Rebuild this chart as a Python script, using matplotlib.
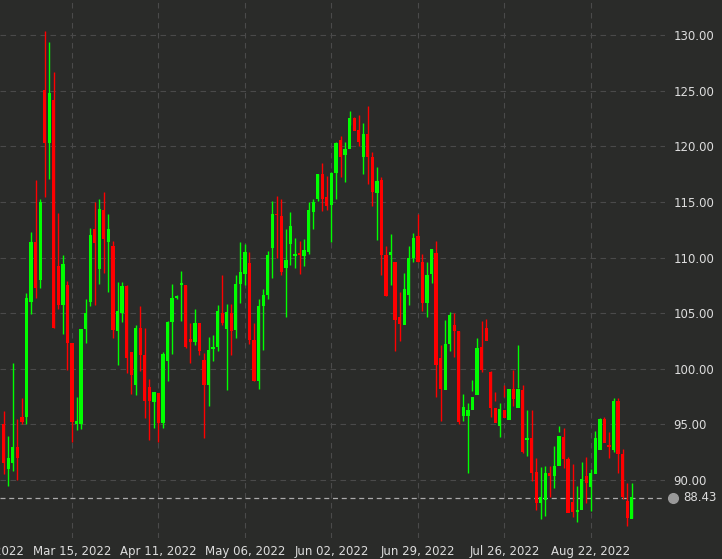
import matplotlib
matplotlib.use("Agg")
import matplotlib.pyplot as plt
import numpy as np
import pandas as pd

opens = [95.0,91.0,91.5,93.0,95.7,95.7,106.0,111.4,108.0,125.1,120.3,124.2,109.2,105.7,107.5,102.3,95.0,95.0,103.6,106.0,112.6,109.0,114.3,111.4,111.0,
         103.4,105.0,107.4,101.5,98.5,103.7,101.2,98.4,97.0,97.8,95.1,100.7,104.2,106.4,107.5,107.5,102.7,102.4,104.1,100.8,98.5,101.8,102.0,105.0,
         103.6,105.0,103.5,107.6,108.5,109.5,102.6,98.9,105.6,106.6,110.9,113.9,113.7,109.1,111.2,110.1,110.4,110.1,110.5,114.1,115.3,117.5,115.4,114.7,
         117.6,120.6,119.2,119.8,122.5,121.5,119.0,121.1,119.0,115.8,117.0,110.2,110.2,109.6,104.7,103.9,106.6,110.0,111.9,109.6,105.9,108.5,110.4,101.0,
         98.1,102.2,103.9,103.4,95.8,95.8,96.3,97.6,102.0,103.7,99.7,96.5,94.9,96.3,95.4,98.2,96.5,98.1,93.6,93.8,90.7,87.9,88.2,90.6,
         90.4,91.3,93.9,91.9,88.0,87.1,87.3,90.4,89.4,90.5,92.7,95.5,93.05,92.7,97.1,92.3,88.1,86.5]
closes = [91.5,92.0,93.0,92.0,95.2,106.4,111.4,107.3,115.0,120.3,124.8,103.7,105.7,109.4,102.3,95.2,95.3,103.6,105.0,112.0,111.3,114.4,111.7,112.6,103.5,
          105.2,107.4,101.0,99.4,103.7,101.2,97.1,97.1,97.9,95.1,101.3,104.2,106.4,106.5,107.7,102.0,102.4,104.1,101.6,98.5,101.7,102.0,105.2,104.1,
          105.1,103.4,107.6,108.7,110.5,102.6,98.9,105.6,106.6,110.2,113.9,113.8,108.7,109.8,112.8,110.3,110.25,110.7,114.3,115.0,117.5,115.3,114.6,117.6,
          120.3,119.0,119.8,122.5,121.4,120.4,121.1,119.0,115.9,116.9,110.2,106.5,110.5,104.4,104.0,107.2,110.0,111.8,109.6,105.9,108.4,110.8,100.3,98.2,
          102.2,104.8,103.4,95.2,96.6,96.3,97.5,101.9,99.9,102.5,96.5,95.1,96.4,95.6,98.2,97.3,98.2,92.5,93.8,90.6,87.9,88.5,90.6,90.4,
          91.3,94.0,91.9,87.0,87.1,87.3,90.1,89.7,90.6,93.8,95.5,93.3,93.0,97.1,92.3,88.5,86.6,88.5]
highs = [96.2,94.0,100.5,95.5,97.4,106.8,112.3,117.0,115.3,130.4,129.4,126.7,114.0,110.2,107.9,102.3,97.5,103.6,106.3,112.7,115.0,115.3,115.9,113.9,111.5,
         107.8,107.8,107.5,101.5,103.9,105.6,103.7,99.1,97.9,97.8,101.5,104.3,107.6,106.6,108.8,107.5,104.1,105.4,104.1,101.4,102.9,103.0,105.7,108.4,
         105.8,105.8,108.4,111.4,111.2,110.5,104.1,106.3,107.2,110.6,115.1,115.5,115.3,112.6,114.1,111.8,111.5,111.7,115.0,115.3,117.5,118.5,117.3,117.7,
         120.4,120.9,120.4,123.2,122.6,122.8,122.1,123.6,119.5,118.1,117.2,111.0,112.1,109.6,106.9,108.6,111.0,112.2,113.9,110.3,109.6,110.8,111.5,102.1,
         104.4,105.1,105.0,103.4,97.7,96.9,99.0,102.8,104.3,104.5,99.8,97.9,96.9,98.5,98.2,99.9,102.1,98.5,96.3,96.3,92.0,91.2,91.3,91.3,
         93.1,94.9,94.7,92.1,91.4,89.5,91.6,92.1,91.0,94.4,95.6,95.7,94.3,97.4,97.4,92.8,89.7,89.7]
lows = [90.5,89.5,90.8,90.0,95.0,95.0,104.9,106.4,107.3,115.4,117.1,103.7,105.4,103.1,99.9,93.4,94.5,94.6,102.3,105.6,105.7,107.6,108.6,106.9,102.8,
        100.3,104.2,99.6,97.7,97.6,99.8,95.6,93.6,94.7,93.4,94.7,98.9,101.3,106.3,104.3,101.9,100.5,102.1,101.2,93.8,96.7,100.7,101.6,103.9,
        98.1,101.2,102.8,105.9,107.5,102.2,98.9,98.2,101.7,106.3,108.2,110.0,108.4,104.7,109.3,109.1,108.5,109.2,110.3,112.6,115.1,114.2,114.3,111.4,
        115.3,117.2,116.8,121.9,121.9,120.0,117.5,116.6,114.6,111.6,108.4,106.5,107.5,101.6,102.5,104.0,105.7,109.6,109.6,105.2,104.7,107.7,97.5,95.3,
        98.8,101.6,101.1,95.0,95.3,90.6,98.0,98.0,99.7,103.0,95.7,97.1,93.9,97.5,98.2,96.7,98.3,92.4,92.2,89.9,87.3,86.5,86.8,88.5,
        89.3,94.3,91.1,89.9,86.7,86.2,88.4,87.9,87.2,92.4,95.5,95.1,92.0,92.5,90.6,88.3,85.9,86.6]

n = len(opens)
dates = pd.bdate_range("2022-02-22", periods=n)
tick_dates = pd.bdate_range("2022-02-16", periods=8, freq="19B")
tick_labels = [d.strftime("%b %d, %Y") for d in tick_dates]
last_price = 88.43

bg = "#2a2b29"
fig = plt.figure(figsize=(7.22, 5.59), dpi=100, facecolor=bg)
ax = fig.add_axes([0, 21/559, 665/722, 538/559], facecolor=bg)

idx = np.arange(n)
o = np.array(opens); c = np.array(closes); h = np.array(highs); l = np.array(lows)
cols = np.where(c >= o, "#00ff00", "#ff0000")
ax.vlines(idx, l, h, colors=cols, linewidth=1, zorder=3)
ax.bar(idx, np.maximum(np.abs(c - o), 0.15), bottom=np.minimum(o, c), width=0.72, color=cols, zorder=4)

tpos = [int(np.busday_count(dates[0].date(), d.date())) for d in tick_dates]
ax.set_xticks(tpos[1:])
ax.set_xticklabels(tick_labels[1:])
ax.axvline(tpos[0], color="#4a4a4a", linestyle=(0, (5, 4)), linewidth=0.8, zorder=0)
xmin, xmax = -0.82, 145.3
ax.set_xlim(xmin, xmax)
ax.set_ylim(84.79, 133.15)
# first label, partly outside the figure
ax.annotate(tick_labels[0], xy=(tpos[0], 0), xycoords=("data", "axes fraction"),
            xytext=(0, -5), textcoords="offset points", ha="center", va="top",
            color="#dddddd", fontsize=8.5, annotation_clip=False)
yt = [90, 95, 100, 105, 110, 115, 120, 125, 130]
ax.set_yticks(yt)
ax.set_yticklabels([f"{v:.2f}" for v in yt])
ax.yaxis.tick_right()
ax.tick_params(colors="#dddddd", labelsize=8.5, length=0, pad=6)
ax.tick_params(axis="x", pad=5)
ax.grid(True, color="#4a4a4a", linestyle=(0, (5, 4)), linewidth=0.8, zorder=0)
for s in ax.spines.values():
    s.set_visible(False)

ax.axhline(last_price, color="#aaaaaa", linestyle=(0, (4, 3)), linewidth=0.9, zorder=2)
ax.plot([1.012], [last_price], marker="o", markersize=7, color="#999999", transform=ax.get_yaxis_transform(), clip_on=False)
ax.text(1.027, last_price, f"{last_price:.2f}", color="#dddddd", fontsize=8.5, va="center", ha="left",
        transform=ax.get_yaxis_transform(), clip_on=False)

fig.savefig("out.png", dpi=100, facecolor=bg)
